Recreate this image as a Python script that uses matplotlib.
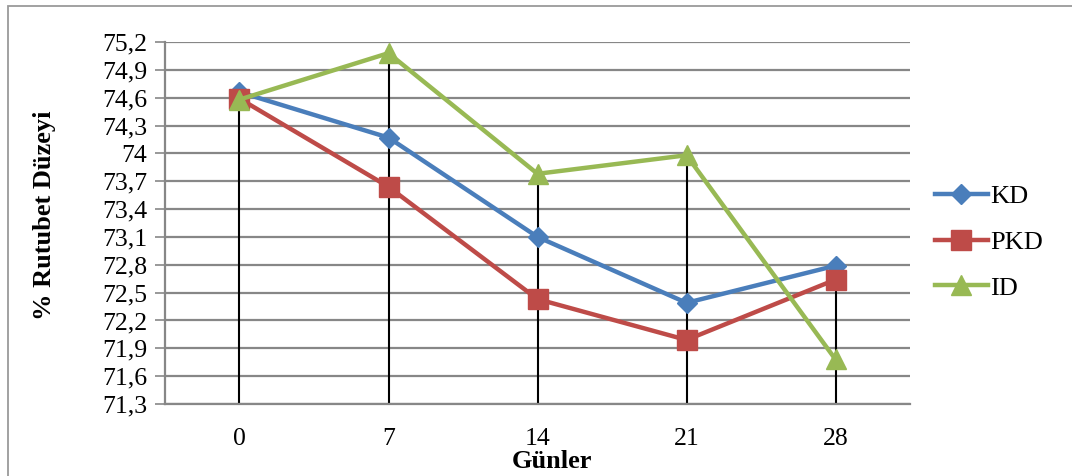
import matplotlib
matplotlib.use("Agg")
import matplotlib.pyplot as plt
from matplotlib.patches import Rectangle
from matplotlib.ticker import FixedLocator, FuncFormatter

plt.rcParams['font.family'] = ['Liberation Serif', 'DejaVu Serif']

days = ["0", "7", "14", "21", "28"]
kd = [74.66, 74.17, 73.10, 72.39, 72.79]
pkd = [74.59, 73.64, 72.43, 71.99, 72.64]
id_ = [74.58, 75.08, 73.78, 73.98, 71.78]
y_ticks = [71.3, 71.6, 71.9, 72.2, 72.5, 72.8, 73.1, 73.4, 73.7, 74.0,
           74.3, 74.6, 74.9, 75.2]

fig = plt.figure(figsize=(10.72, 4.76), dpi=100)
ax = fig.add_axes([165 / 1072, 1 - 404 / 476, 745 / 1072, 362 / 476])

# outer chart frame
fig.patches.append(Rectangle((8 / 1072, -0.1), 1.1, 1 - 6 / 476 + 0.1,
                             transform=fig.transFigure, fill=False,
                             edgecolor='#9a9a9a', linewidth=1.3))

x = list(range(len(days)))
grid_c = '#878787'

# drop lines from the highest value at each day down to the axis
for i in x:
    top = max(kd[i], pkd[i], id_[i])
    ax.plot([i, i], [y_ticks[0], top], color='black', lw=1.5, zorder=2)

ax.plot(x, kd, color='#4a7ebb', lw=3.2, marker='D', ms=10.5, label='KD', zorder=3)
ax.plot(x, pkd, color='#be4b48', lw=3.2, marker='s', ms=14, label='PKD', zorder=3)
ax.plot(x, id_, color='#98b954', lw=3.2, marker='^', ms=15, label='ID', zorder=4)

ax.set_xlim(-0.5, len(days) - 0.5)
ax.set_ylim(y_ticks[0], y_ticks[-1])
ax.set_xticks(x)
ax.set_xticklabels(days, fontsize=18.5)
ax.tick_params(axis='x', length=0, pad=17)
ax.yaxis.set_major_locator(FixedLocator(y_ticks))
ax.yaxis.set_major_formatter(FuncFormatter(
    lambda v, p: ('%g' % round(v, 1)).replace('.', ',')))
ax.tick_params(axis='y', labelsize=18.5, length=7, width=1.2, color=grid_c, pad=6)

ax.grid(axis='y', color=grid_c, lw=1.6, zorder=0)
ax.set_axisbelow(True)
for s in ['top', 'right']:
    ax.spines[s].set_visible(False)
ax.spines['left'].set_color(grid_c)
ax.spines['left'].set_linewidth(1.6)
ax.spines['bottom'].set_color(grid_c)
ax.spines['bottom'].set_linewidth(1.6)

fig.text(45 / 1072, 1 - 215 / 476, '% Rutubet Düzeyi', rotation=90,
         fontsize=19, fontweight='bold', ha='center', va='center')
fig.text(552 / 1072, 1 - 461 / 476, 'Günler',
         fontsize=19, fontweight='bold', ha='center', va='center')

ax.legend(loc='center left', bbox_to_anchor=(935 / 1072, 1 - 242 / 476),
          bbox_transform=fig.transFigure, frameon=False, fontsize=19,
          handlelength=2.0, labelspacing=0.85, handletextpad=0.1,
          borderaxespad=0, borderpad=0)

fig.savefig('out.png', dpi=100)
